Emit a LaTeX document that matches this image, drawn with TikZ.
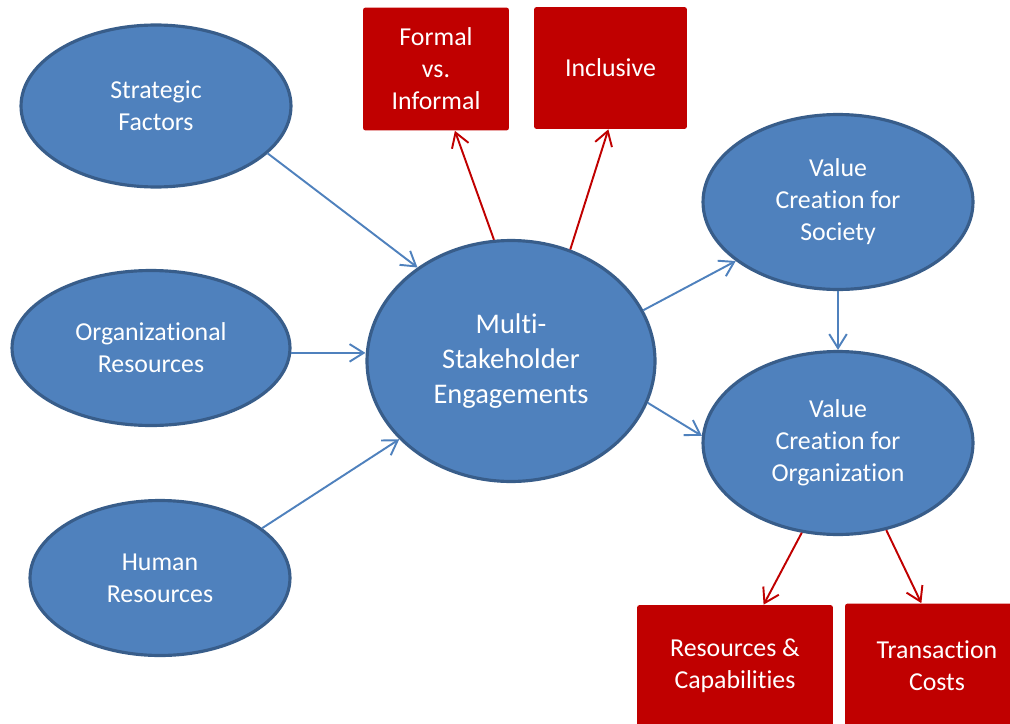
\documentclass[tikz,border=0pt]{standalone}
\usepackage{fontspec}
\setmainfont{Carlito}[Ligatures=NoCommon]
\usetikzlibrary{shapes.geometric,arrows.meta}
\definecolor{ovalblue}{HTML}{4F81BD}
\definecolor{ovalrim}{HTML}{385D8A}
\definecolor{boxred}{HTML}{C00000}

\begin{document}
\begin{tikzpicture}[x=0.02cm,y=-0.02cm,
  oval/.style={ellipse,draw=ovalrim,line width=1.8pt,fill=ovalblue,text=white,
    align=center,inner sep=0pt,font=\fontsize{14.7}{18.2}\selectfont},
  redbox/.style={rectangle,fill=boxred,rounded corners=1.5pt,text=white,
    align=center,inner sep=0pt,font=\fontsize{14.7}{18.2}\selectfont},
  bluearrow/.style={draw=ovalblue,line width=1.1pt,-{Straight Barb[length=8pt,width=10pt]}},
  redarrow/.style={draw=boxred,line width=1.1pt,-{Straight Barb[length=8pt,width=10pt]}}]

\useasboundingbox (0,0) rectangle (1010,723);
\clip (0,0) rectangle (1010,723);

% ovals
\node[oval,minimum width=5.4cm,minimum height=3.24cm] (sf) at (156,106) {Strategic\\Factors};
\node[oval,minimum width=5.56cm,minimum height=3.1cm] (orr) at (151,348) {Organizational\\Resources};
\node[oval,minimum width=5.2cm,minimum height=3.1cm] (hr) at (160,578) {Human\\Resources};
\node[oval,minimum width=5.76cm,minimum height=4.82cm,
  font=\fontsize{16.2}{19.8}\selectfont] (ms) at (511,361) {Multi-\\Stakeholder\\Engagements};
\node[oval,minimum width=5.4cm,minimum height=3.5cm] (vs) at (838,202) {Value\\Creation for\\Society};
\node[oval,minimum width=5.4cm,minimum height=3.66cm] (vo) at (838,443) {Value\\Creation for\\Organization};

% boxes
\node[redbox,minimum width=2.92cm,minimum height=2.46cm] (fvi) at (436,69) {Formal\\vs.\\Informal};
\node[redbox,minimum width=3.06cm,minimum height=2.44cm] (inc) at (610.5,68) {Inclusive};
\node[redbox,minimum width=3.92cm,minimum height=2.44cm] (rc) at (735,666) {Resources \&\\Capabilities};
\node[redbox,minimum width=3.68cm,minimum height=2.5cm] (tc) at (937,666) {Transaction\\Costs};

% connectors
\draw[bluearrow] (sf.-23) -- (ms.135);
\draw[bluearrow] (orr.-2) -- (orr.-2 -| ms.west);
\draw[bluearrow] (hr.26) -- (ms.215);
\draw[bluearrow] (ms.21) -- (vs.210);
\draw[bluearrow] (ms.-17) -- (vo.177);
\draw[bluearrow] (vs.south) -- (vo.north);

\draw[redarrow] (ms.98) -- (fvi.-73);
\draw[redarrow] (ms.62) -- (inc.-92);
\draw[redarrow] (vo.248) -- (rc.65);
\draw[redarrow] (vo.-61) -- (tc.104);

\end{tikzpicture}
\end{document}
